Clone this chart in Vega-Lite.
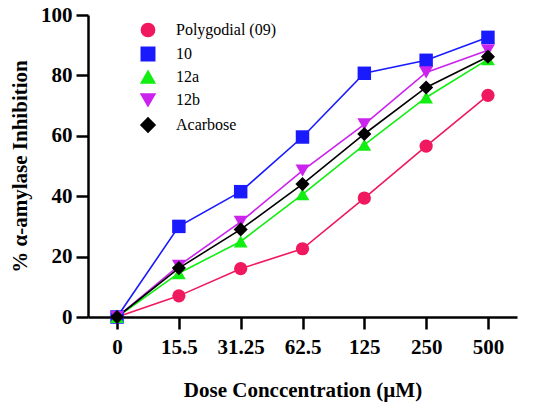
{
  "$schema": "https://vega.github.io/schema/vega-lite/v6.json",
  "width": 429,
  "height": 302,
  "autosize": {"type": "none"},
  "padding": {"left": 88, "top": 15, "right": 33, "bottom": 90},
  "background": "white",
  "data": {
    "values": [
      {"series": "Polygodial (09)", "dose": "0", "value": 0},
      {"series": "Polygodial (09)", "dose": "15.5", "value": 7},
      {"series": "Polygodial (09)", "dose": "31.25", "value": 16},
      {"series": "Polygodial (09)", "dose": "62.5", "value": 22.6},
      {"series": "Polygodial (09)", "dose": "125", "value": 39.4},
      {"series": "Polygodial (09)", "dose": "250", "value": 56.6},
      {"series": "Polygodial (09)", "dose": "500", "value": 73.4},
      {"series": "10", "dose": "0", "value": 0},
      {"series": "10", "dose": "15.5", "value": 30},
      {"series": "10", "dose": "31.25", "value": 41.5},
      {"series": "10", "dose": "62.5", "value": 59.6},
      {"series": "10", "dose": "125", "value": 80.7},
      {"series": "10", "dose": "250", "value": 85},
      {"series": "10", "dose": "500", "value": 92.6},
      {"series": "12a", "dose": "0", "value": 0},
      {"series": "12a", "dose": "15.5", "value": 14.5},
      {"series": "12a", "dose": "31.25", "value": 25},
      {"series": "12a", "dose": "62.5", "value": 40.6},
      {"series": "12a", "dose": "125", "value": 57},
      {"series": "12a", "dose": "250", "value": 72.7},
      {"series": "12a", "dose": "500", "value": 85.3},
      {"series": "12b", "dose": "0", "value": 0},
      {"series": "12b", "dose": "15.5", "value": 17},
      {"series": "12b", "dose": "31.25", "value": 31.5},
      {"series": "12b", "dose": "62.5", "value": 48.5},
      {"series": "12b", "dose": "125", "value": 63.8},
      {"series": "12b", "dose": "250", "value": 81},
      {"series": "12b", "dose": "500", "value": 88.3},
      {"series": "Acarbose", "dose": "0", "value": 0},
      {"series": "Acarbose", "dose": "15.5", "value": 16.2},
      {"series": "Acarbose", "dose": "31.25", "value": 29},
      {"series": "Acarbose", "dose": "62.5", "value": 44},
      {"series": "Acarbose", "dose": "125", "value": 60.6},
      {"series": "Acarbose", "dose": "250", "value": 76},
      {"series": "Acarbose", "dose": "500", "value": 86.2}
    ]
  },
  "encoding": {
    "x": {
      "field": "dose",
      "type": "ordinal",
      "scale": {"type": "point", "domain": ["0", "15.5", "31.25", "62.5", "125", "250", "500"], "padding": 0.47},
      "axis": {
        "title": "Dose Conccentration (µM)",
        "labelAngle": 0,
        "labelPadding": 7,
        "labelFontSize": 21,
        "titlePadding": 22
      }
    },
    "y": {
      "field": "value",
      "type": "quantitative",
      "scale": {"domain": [0, 100], "nice": false},
      "axis": {
        "title": "% α-amylase Inhibition",
        "values": [0, 20, 40, 60, 80, 100],
        "grid": false,
        "labelPadding": 4,
        "labelFontSize": 21,
        "titlePadding": 10,
        "titleFontSize": 21
      }
    },
    "color": {
      "field": "series",
      "type": "nominal",
      "scale": {
        "domain": ["Polygodial (09)", "10", "12a", "12b", "Acarbose"],
        "range": ["#f0185e", "#1a1aff", "#11ee11", "#cc22ee", "#000000"]
      },
      "legend": {
        "orient": "none",
        "legendX": 52,
        "legendY": 7,
        "title": null,
        "symbolSize": 180,
        "labelOffset": 20,
        "rowPadding": 4,
        "labelFont": "Liberation Serif",
        "labelFontSize": 16,
        "labelColor": "black"
      }
    }
  },
  "layer": [
    {
      "mark": {"type": "line", "strokeWidth": 1.6}
    },
    {
      "mark": {"type": "point", "filled": true, "opacity": 1},
      "encoding": {
        "shape": {
          "field": "series",
          "type": "nominal",
          "scale": {
            "domain": ["Polygodial (09)", "10", "12a", "12b", "Acarbose"],
            "range": ["circle", "square", "triangle-up", "triangle-down", "diamond"]
          }
        },
        "size": {
          "field": "series",
          "type": "nominal",
          "legend": null,
          "scale": {
            "domain": ["Polygodial (09)", "10", "12a", "12b", "Acarbose"],
            "range": [175, 200, 230, 230, 120]
          }
        }
      }
    }
  ],
  "config": {
    "view": {"stroke": null},
    "font": "Liberation Serif",
    "axis": {
      "domainColor": "black",
      "domainWidth": 2.5,
      "tickColor": "black",
      "tickWidth": 2.5,
      "tickSize": 12,
      "labelFont": "Liberation Serif",
      "labelFontWeight": "bold",
      "labelColor": "black",
      "titleFont": "Liberation Serif",
      "titleFontSize": 21,
      "titleFontWeight": "bold",
      "titleColor": "black"
    }
  }
}
